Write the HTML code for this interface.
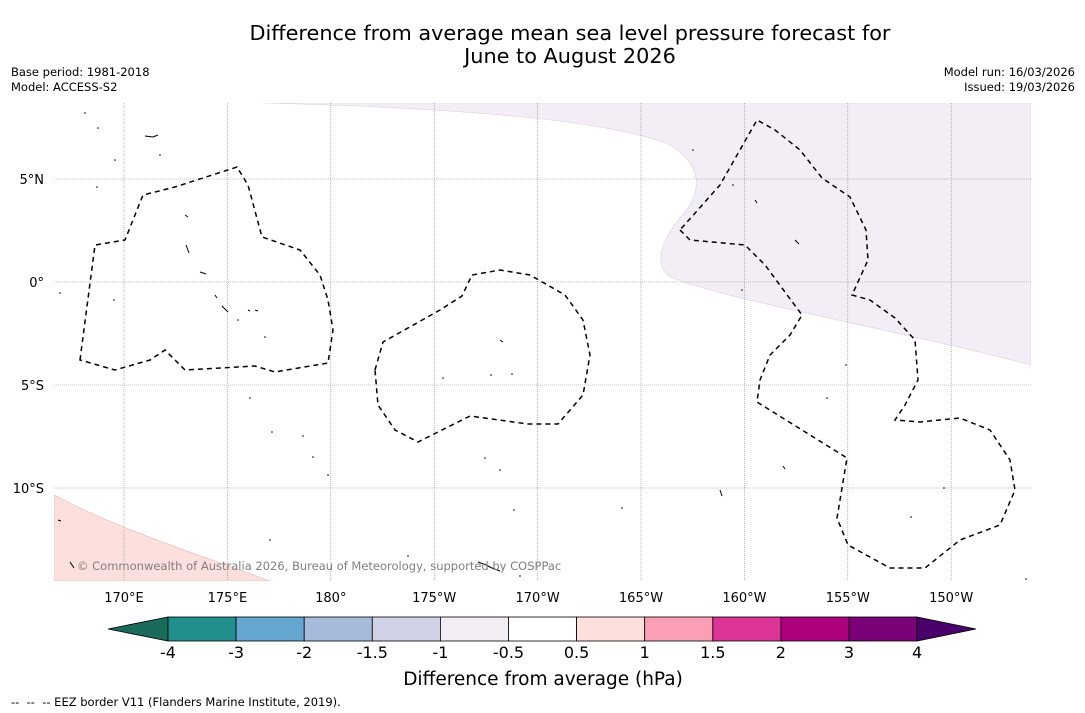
<!DOCTYPE html>
<html><head><meta charset="utf-8">
<style>
body{margin:0;background:#fff;font-family:"DejaVu Sans","Liberation Sans",sans-serif;}
#wrap{position:relative;width:1085px;height:713px;overflow:hidden;background:#fff;}
.t{position:absolute;white-space:nowrap;}
</style></head><body>
<div id="wrap">
<div class="t" style="left:0;width:1140px;top:22px;text-align:center;font-size:20.8px;line-height:23px;color:#000;">Difference from average mean sea level pressure forecast for<br>June to August 2026</div>
<div class="t" style="left:11px;top:65px;font-size:11.5px;line-height:15px;">Base period: 1981-2018<br>Model: ACCESS-S2</div>
<div class="t" style="right:10px;top:65px;font-size:11.5px;line-height:15px;text-align:right;">Model run: 16/03/2026<br>Issued: 19/03/2026</div>
<svg id="map" width="1085" height="713" style="position:absolute;left:0;top:0" font-family="DejaVu Sans, Liberation Sans, sans-serif">
<defs><clipPath id="mc"><rect x="54" y="103" width="977" height="478"/></clipPath></defs>
<g clip-path="url(#mc)">
<path d="M54,495 C120,530 200,555 270,581 L54,581 Z" fill="#fde0dd" stroke="#e9b8b8" stroke-width="0.6"/>
<path d="M262,103 L1031,103 L1031,365 C900,330 700,295 668,275 C652,260 665,235 685,212 C702,190 702,165 670,145 C610,120 460,108 262,103 Z" fill="#f3edf5" stroke="#ddd0e2" stroke-width="0.6"/>
<g id="grid"></g>
<g fill="none" stroke="#000" stroke-width="1.5" stroke-dasharray="5,4">
<path d="M80,360 L95,245 L125,240 L143,195 L175,187 L237,167 L248,185 L262,237 L300,250 L320,275 L328,300 L333,330 L328,363 L275,372 L255,366 L185,370 L165,350 L150,360 L115,370 Z"/>
<path d="M375,370 L383,342 L440,310 L462,296 L472,275 L500,270 L530,275 L565,295 L583,320 L590,355 L583,395 L558,424 L528,424 L470,416 L418,442 L395,430 L378,405 Z"/>
<path d="M680,230 L690,240 L745,245 L765,265 L802,315 L790,335 L770,355 L760,380 L757,402 L847,458 L837,518 L848,545 L890,568 L925,568 L960,540 L1000,525 L1015,490 L1010,460 L990,430 L960,418 L920,422 L895,420 L905,405 L918,380 L915,340 L895,318 L870,300 L852,295 L868,260 L866,230 L850,197 L822,178 L800,150 L775,130 L757,120 L720,185 Z"/>
</g>
<g fill="none" stroke="#000" stroke-width="1">
<path d="M145,136 l8,1 l5,-2 M185,215 l3,2 M186,245 l3,8 M200,272 l6,2 M215,295 l2,3 M222,306 l6,6 M248,310 l2,1 M255,310 l3,1 M500,340 l3,2 M478,562 l8,3 l6,3 l8,3 M783,466 l2,3 M795,240 l4,4 M755,200 l2,3 M58,520 l3,1 M70,562 l4,6 M720,490 l2,6"/>
</g>
<g fill="#000">
<circle cx="85" cy="113" r="0.8"/><circle cx="98" cy="128" r="0.8"/><circle cx="115" cy="160" r="0.8"/><circle cx="160" cy="155" r="0.8"/><circle cx="97" cy="187" r="0.8"/><circle cx="60" cy="293" r="0.8"/><circle cx="114" cy="300" r="0.8"/><circle cx="238" cy="320" r="0.8"/><circle cx="265" cy="337" r="0.8"/><circle cx="250" cy="398" r="0.8"/><circle cx="272" cy="432" r="0.8"/><circle cx="303" cy="436" r="0.8"/><circle cx="313" cy="457" r="0.8"/><circle cx="328" cy="475" r="0.8"/><circle cx="443" cy="378" r="0.8"/><circle cx="491" cy="375" r="0.8"/><circle cx="512" cy="374" r="0.8"/><circle cx="485" cy="458" r="0.8"/><circle cx="500" cy="470" r="0.8"/><circle cx="514" cy="510" r="0.8"/><circle cx="622" cy="508" r="0.8"/><circle cx="693" cy="150" r="0.8"/><circle cx="733" cy="185" r="0.8"/><circle cx="742" cy="290" r="0.8"/><circle cx="827" cy="398" r="0.8"/><circle cx="846" cy="365" r="0.8"/><circle cx="911" cy="517" r="0.8"/><circle cx="944" cy="488" r="0.8"/><circle cx="1026" cy="579" r="0.8"/><circle cx="408" cy="556" r="0.8"/><circle cx="270" cy="540" r="0.8"/><circle cx="520" cy="576" r="0.8"/>
</g>
</g>
<text x="77" y="570" font-size="11.5" fill="#7f7f7f">© Commonwealth of Australia 2026, Bureau of Meteorology, supported by COSPPac</text>
<g id="axes"></g>
<g id="cbar"></g>
<text x="543" y="685" font-size="18.5" text-anchor="middle">Difference from average (hPa)</text>
<text x="11" y="706" font-size="11.5" xml:space="preserve">--  --  -- EEZ border V11 (Flanders Marine Institute, 2019).</text>
</svg>
</div>
<script>
const lonTicks=[170,175,180,185,190,195,200,205,210];
const lonLabels=["170°E","175°E","180°","175°W","170°W","165°W","160°W","155°W","150°W"];
const latTicks=[5,0,-5,-10];
const latLabels=["5°N","0°","5°S","10°S"];
const cbLevels=["-4","-3","-2","-1.5","-1","-0.5","0.5","1","1.5","2","3","4"];
const cbColors=["#21908d","#64a6cf","#a6bbdb","#d0d1e6","#f3edf5","#ffffff","#fde0dd","#fa9fb5","#dd3497","#ae017e","#7a0177"];
const cbLow="#1a6b5c", cbHigh="#49006a";
const NS="http://www.w3.org/2000/svg";
const xLon=l=>124+(l-170)*20.68;
const yLat=l=>282-l*20.6;
function mk(t,a,p){const e=document.createElementNS(NS,t);for(const k in a)e.setAttribute(k,a[k]);p.appendChild(e);return e;}
const grid=document.getElementById('grid'),axes=document.getElementById('axes'),cb=document.getElementById('cbar');
lonTicks.forEach((l,i)=>{
 const ln=mk('line',{x1:xLon(l),x2:xLon(l),y1:103,y2:581,stroke:'#888','stroke-width':0.6,'stroke-dasharray':'1,1'},grid);
 
 
 const t=mk('text',{x:xLon(l),y:602,'font-size':13,'text-anchor':'middle'},axes);
 t.textContent=lonLabels[i];
 
 
});
latTicks.forEach((l,i)=>{
 const ln=mk('line',{x1:54,x2:1031,y1:yLat(l),y2:yLat(l),stroke:'#888','stroke-width':0.6,'stroke-dasharray':'1,1'},grid);
 
 
 const t=mk('text',{x:44,y:yLat(l)+5,'font-size':13,'text-anchor':'end'},axes);
 t.textContent=latLabels[i];
 
 
});
const cx=i=>168+i*68.1, cy0=617, cy1=641;
const lo=mk('polygon',{points:`108,629 ${cx(0)},${cy0} ${cx(0)},${cy1}`,fill:cbLow,stroke:'#000','stroke-width':0.8},cb);


cbColors.forEach((c,i)=>{
 const r=mk('rect',{x:cx(i),y:cy0,width:68.1,height:cy1-cy0,fill:c,stroke:'#000','stroke-width':0.8},cb);
 
 
});
const n=cbLevels.length-1;
const hi=mk('polygon',{points:`${cx(n)},${cy0} 976,629 ${cx(n)},${cy1}`,fill:cbHigh,stroke:'#000','stroke-width':0.8},cb);


cbLevels.forEach((v,i)=>{
 const t=mk('text',{x:cx(i),y:658,'font-size':16,'text-anchor':'middle'},cb);
 t.textContent=v;
 
 
});
</script>
</body></html>
